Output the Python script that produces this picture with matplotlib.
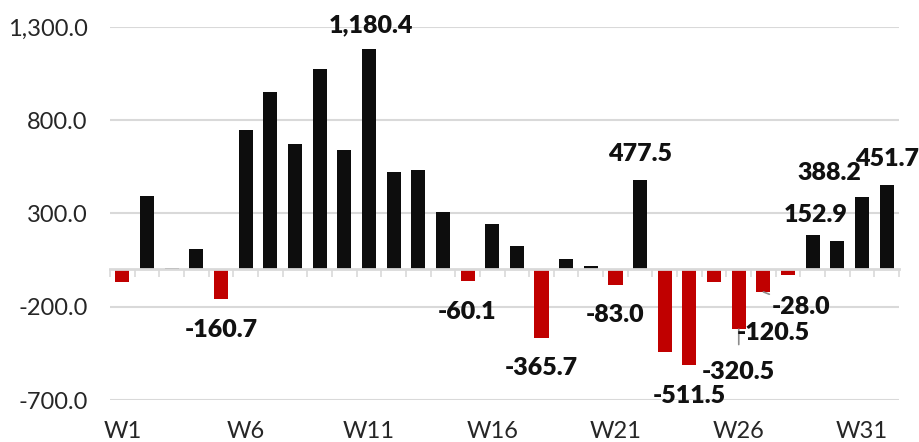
import matplotlib
matplotlib.use('Agg')
import matplotlib.pyplot as plt
import matplotlib.transforms as mtransforms

weeks = ["W%d" % i for i in range(1, 33)]
values = [-65, 393, 10, 112, -160.7, 745, 952, 671, 1077, 643,
          1180.4, 520, 532, 309, -60.1, 243, 125, -365.7, 54, 20,
          -83.0, 477.5, -443, -511.5, -70, -320.5, -120.5, -28.0, 186, 152.9,
          388.2, 451.7]

# labelled weeks -> (label text, dx px, dy px)
labels = {
    5: ("-160.7", 0, -31),
    11: ("1,180.4", 2, 24),
    15: ("-60.1", 0, -31),
    18: ("-365.7", 0, -30),
    21: ("-83.0", 0, -30),
    22: ("477.5", 0, 26),
    24: ("-511.5", 0, -31),
    26: ("-320.5", 0, -43),
    27: ("-120.5", 10, -41),
    30: ("152.9", -22, 26),
    31: ("388.2", -33, 24),
    32: ("451.7", 0, 26),
}

plt.rcParams['font.family'] = ['Lato', 'DejaVu Sans']

fig = plt.figure(figsize=(9.2, 4.42), dpi=100)
ax = fig.add_axes([0.1196, 0.095, 0.8576, 0.844])

x = list(range(1, len(values) + 1))
colors = ["#0d0d0d" if v >= 0 else "#c00000" for v in values]
ax.bar(x, values, width=0.57, color=colors, zorder=3)

ax.set_ylim(-700, 1300)
ax.set_xlim(0.5, len(values) + 0.5)
ax.set_yticks([-700, -200, 300, 800, 1300])
ax.set_yticklabels(["{:,.1f}".format(t) for t in [-700, -200, 300, 800, 1300]],
                   fontsize=17, color="#262626")
ax.tick_params(axis="y", length=0, pad=16)
ax.yaxis.grid(True, color="#d9d9d9", linewidth=1.5, zorder=0)

for s in ["top", "right", "left"]:
    ax.spines[s].set_visible(False)
ax.spines["bottom"].set_position(("data", 0))
ax.spines["bottom"].set_color("#d9d9d9")
ax.spines["bottom"].set_linewidth(2)
ax.spines["bottom"].set_zorder(4)
ax.set_xticks([i + 0.5 for i in range(0, len(values) + 1)])
ax.set_xticklabels([])
ax.tick_params(axis="x", length=6, width=1.2, color="#d9d9d9", direction="out")

trans = mtransforms.blended_transform_factory(ax.transData, ax.transAxes)
for i in range(0, len(weeks), 5):
    ax.text(x[i], -0.085, weeks[i], transform=trans, ha="center", va="center",
            fontsize=17, color="#262626")

for wk, (txt, dx, dy) in labels.items():
    v = values[wk - 1]
    props = None
    if wk == 26:
        props = dict(arrowstyle="-", color="#8c8c8c", lw=1.2, shrinkA=10, shrinkB=0)
    ax.annotate(txt, xy=(wk, v), xytext=(dx, dy), textcoords="offset pixels",
                ha="center", va="center", fontsize=18, fontweight="heavy",
                color="#111111", arrowprops=props, annotation_clip=False, zorder=5)

# the -28.0 label sits off to the side with a leader line back to W27
ax.annotate("-28.0", xy=(27, values[26]), xytext=(38, -15), textcoords="offset pixels",
            ha="center", va="center", fontsize=18, fontweight="heavy", color="#111111",
            arrowprops=dict(arrowstyle="-", color="#8c8c8c", lw=1.2, shrinkA=0, shrinkB=0),
            zorder=5)

fig.savefig("out.png", dpi=100)
